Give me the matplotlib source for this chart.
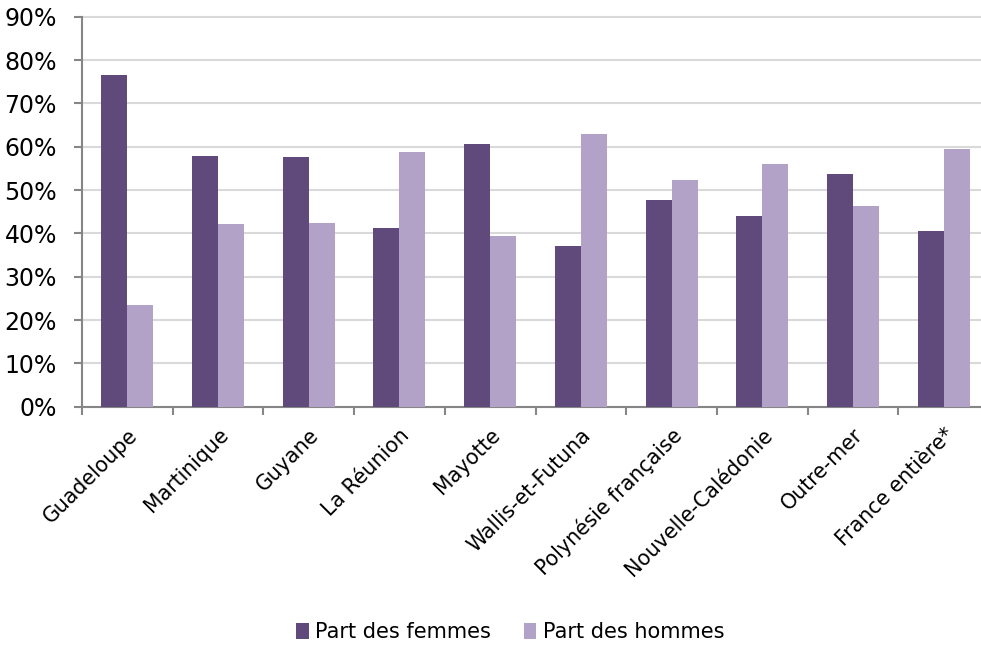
import numpy as np
import matplotlib.pyplot as plt
from matplotlib.ticker import PercentFormatter

# share of women / men per territory (%)
territoires = ['Guadeloupe', 'Martinique', 'Guyane', 'La Réunion', 'Mayotte',
               'Wallis-et-Futuna', 'Polynésie française', 'Nouvelle-Calédonie',
               'Outre-mer', 'France entière*']
part_femmes = [76.5, 57.9, 57.6, 41.2, 60.6, 37.1, 47.6, 44.1, 53.7, 40.5]
part_hommes = [23.5, 42.1, 42.4, 58.8, 39.4, 62.9, 52.4, 55.9, 46.3, 59.5]

c_femmes = '#604a7b'
c_hommes = '#b3a2c7'
axis_grey = '#868686'

plt.rcParams['font.family'] = 'DejaVu Sans'

fig = plt.figure(figsize=(9.81, 6.46), dpi=100)
ax = fig.add_axes([82 / 981, 239.3 / 646, 907 / 981, 390 / 646])

x = np.arange(len(territoires))
w = 0.287
ax.bar(x - w / 2, part_femmes, w, color=c_femmes, label='Part des femmes', zorder=3)
ax.bar(x + w / 2, part_hommes, w, color=c_hommes, label='Part des hommes', zorder=3)

ax.set_xlim(-0.5, len(territoires) - 0.5)
ax.set_ylim(0, 90)
ax.set_yticks(np.arange(0, 91, 10))
ax.yaxis.set_major_formatter(PercentFormatter(decimals=0))
ax.grid(axis='y', color='#d9d9d9', linewidth=1.5, zorder=0)
for gl in ax.get_ygridlines():
    gl.set_clip_on(False)

# category ticks sit on the boundaries, labels on the centres
ax.set_xticks(np.arange(len(territoires) + 1) - 0.5)
ax.set_xticklabels([])
ax.set_xticks(x, minor=True)
ax.set_xticklabels(territoires, minor=True, rotation=45, ha='right',
                   rotation_mode='anchor', fontsize=14.8)
ax.tick_params(axis='x', which='minor', length=0, pad=13)
ax.tick_params(axis='x', which='major', length=6, width=1.5, color=axis_grey)
ax.tick_params(axis='y', length=6, width=1.5, color=axis_grey, labelsize=17, pad=12)

for side in ['top', 'right']:
    ax.spines[side].set_visible(False)
for side in ['left', 'bottom']:
    ax.spines[side].set_color(axis_grey)
    ax.spines[side].set_linewidth(1.5)

fig.legend(loc='center', bbox_to_anchor=(0.52, 0.022), ncol=2, frameon=False,
           fontsize=15, handlelength=0.6, handleheight=0.8, handletextpad=0.3,
           columnspacing=1.6)

fig.savefig('out.png', dpi=100)
